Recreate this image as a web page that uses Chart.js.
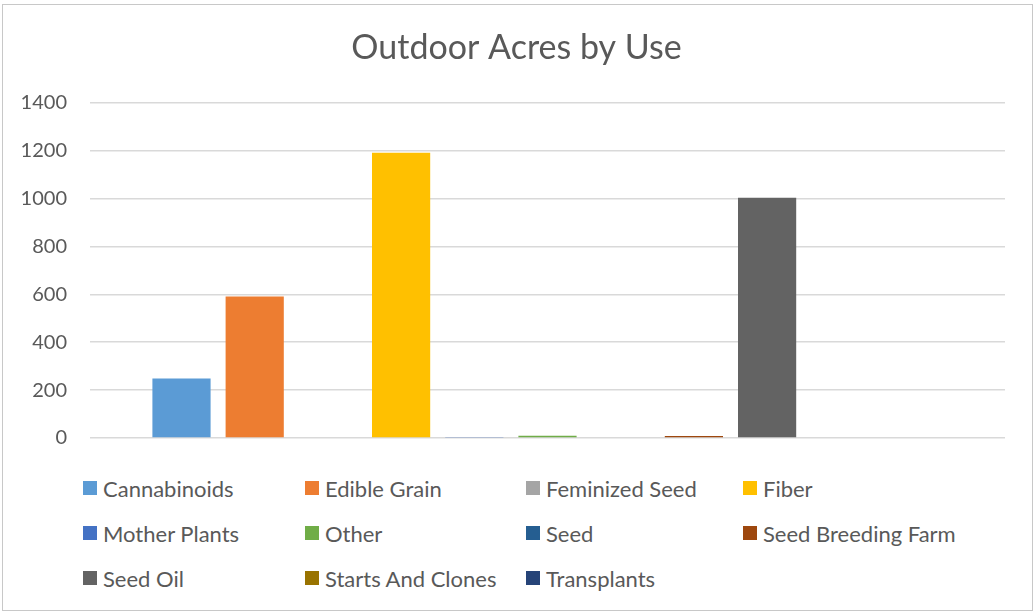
<!DOCTYPE html>
<html>
<head>
<meta charset="utf-8">
<script src="https://cdn.jsdelivr.net/npm/chart.js@4"></script>
<style>
    body { margin: 0; background: #fff; font-family: Lato, "Noto Sans", sans-serif; }
    #frame { position: absolute; left: 2px; top: 4px; width: 1029px; height: 605px; border: 1px solid #c8c8c8; }
    #wrap { position: absolute; left: 0; top: 0; width: 1036px; height: 473px; }
    #legend { position: absolute; left: 83px; top: 475px; width: 900px; display: grid; grid-template-columns: 222px 221px 217px 217px; row-gap: 19px; }
    .item { display: flex; align-items: center; height: 26px; color: #595959; font-size: 22px; white-space: nowrap; }
    .box { width: 14px; height: 14px; margin-right: 6px; flex: none; }
</style>
</head>
<body>
<div id="frame"></div>
<div id="wrap"><canvas id="useChart"></canvas></div>
<div id="legend"></div>
<script>
document.addEventListener('DOMContentLoaded', function() {
    var categories = ['Outdoor'];
    var uses = ['Cannabinoids', 'Edible Grain', 'Feminized Seed', 'Fiber', 'Mother Plants', 'Other',
                'Seed', 'Seed Breeding Farm', 'Seed Oil', 'Starts And Clones', 'Transplants'];
    var acres = [248, 591, 0, 1191, 4, 9, 0, 8, 1003, 0, 0];
    var colors = ['#5B9BD5', '#ED7D31', '#A5A5A5', '#FFC000', '#4472C4', '#70AD47',
                  '#255E91', '#9E480E', '#636363', '#997300', '#264478'];
    var yTicks = [0, 200, 400, 600, 800, 1000, 1200, 1400];

    var datasets = uses.map(function(name, i) {
        return {
            label: name,
            data: [acres[i]],
            backgroundColor: colors[i],
            categoryPercentage: 0.88,
            barPercentage: 0.795
        };
    });

    var ctx = document.getElementById('useChart').getContext('2d');
    var useChart = new Chart(ctx, {
        type: 'bar',
        data: { labels: categories, datasets: datasets },
        options: {
            responsive: true,
            maintainAspectRatio: false,
            animation: false,
            layout: { padding: { left: 10, right: 13, top: 0, bottom: 23 } },
            plugins: {
                legend: { display: false },
                tooltip: { enabled: false },
                title: {
                    display: true,
                    text: 'Outdoor Acres by Use',
                    color: '#595959',
                    font: { family: 'Lato', size: 34, weight: 'normal', lineHeight: 1.2 },
                    padding: { top: 28, bottom: 34 }
                }
            },
            scales: {
                x: { display: false },
                y: {
                    min: 0,
                    max: 1400,
                    afterFit: function(scale) { scale.width = 80; },
                    afterBuildTicks: function(scale) {
                        scale.ticks = yTicks.map(function(v) { return { value: v }; });
                    },
                    border: { display: false },
                    grid: { color: '#d9d9d9', lineWidth: 1.5, drawTicks: false },
                    ticks: {
                        color: '#595959',
                        padding: 23,
                        font: { family: 'Lato', size: 20 },
                        callback: function(value) { return String(value); }
                    }
                },
                // 右側の余白用（非表示）
                yRight: {
                    position: 'right',
                    min: 0,
                    max: 1400,
                    afterFit: function(scale) { scale.width = 18; },
                    border: { display: false },
                    grid: { display: false },
                    ticks: { display: false }
                }
            }
        }
    });

    // 凡例 (Excel風の4列グリッド)
    var legend = document.getElementById('legend');
    uses.forEach(function(name, i) {
        var item = document.createElement('div');
        item.className = 'item';
        var box = document.createElement('span');
        box.className = 'box';
        box.style.background = colors[i];
        var text = document.createElement('span');
        text.textContent = name;
        item.appendChild(box);
        item.appendChild(text);
        legend.appendChild(item);
    });
});
</script>
</body>
</html>
